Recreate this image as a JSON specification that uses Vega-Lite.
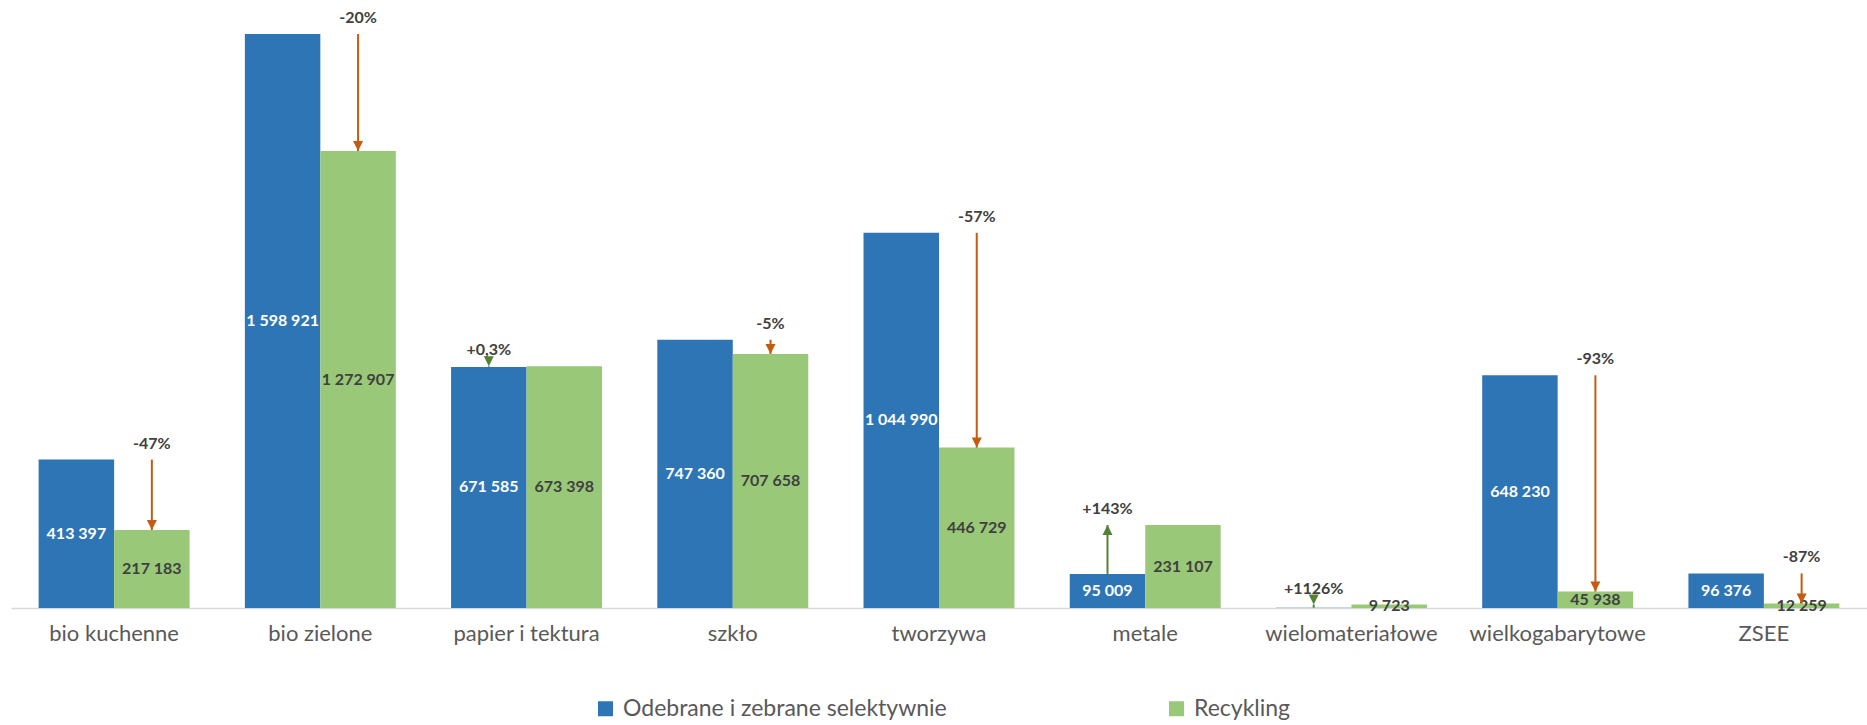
{
  "$schema": "https://vega.github.io/schema/vega-lite/v6.json",
  "width": 1856,
  "height": 608,
  "autosize": {"type": "none"},
  "padding": {"left": 11, "top": 0, "right": 0, "bottom": 117},
  "config": {
    "view": {"stroke": null},
    "font": "Lato",
    "locale": {"number": {"decimal": ",", "thousands": " ", "grouping": [3], "currency": ["", " zł"]}}
  },
  "data": {"values": [
    {"kategoria": "bio kuchenne", "odebrane": 413397, "recykling": 217183, "zmiana": "-47%"},
    {"kategoria": "bio zielone", "odebrane": 1598921, "recykling": 1272907, "zmiana": "-20%"},
    {"kategoria": "papier i tektura", "odebrane": 671585, "recykling": 673398, "zmiana": "+0,3%"},
    {"kategoria": "szkło", "odebrane": 747360, "recykling": 707658, "zmiana": "-5%"},
    {"kategoria": "tworzywa", "odebrane": 1044990, "recykling": 446729, "zmiana": "-57%"},
    {"kategoria": "metale", "odebrane": 95009, "recykling": 231107, "zmiana": "+143%"},
    {"kategoria": "wielomateriałowe", "odebrane": 793, "recykling": 9723, "zmiana": "+1126%"},
    {"kategoria": "wielkogabarytowe", "odebrane": 648230, "recykling": 45938, "zmiana": "-93%"},
    {"kategoria": "ZSEE", "odebrane": 96376, "recykling": 12259, "zmiana": "-87%"}
  ]},
  "encoding": {
    "x": {
      "field": "kategoria", "type": "nominal", "sort": null, "title": null,
      "scale": {"paddingInner": 0.268, "paddingOuter": 0.134},
      "axis": {"labelAngle": 0, "ticks": false, "domainColor": "#D9D9D9", "domainWidth": 1.5, "labelFontSize": 22, "labelColor": "#595959", "labelPadding": 15, "labelFont": "Lato"}
    }
  },
  "resolve": {"scale": {"y": "independent"}},
  "layer": [
    {
      "transform": [{"fold": ["odebrane", "recykling"], "as": ["seria", "wartosc"]}],
      "mark": {"type": "bar"},
      "encoding": {
        "xOffset": {"field": "seria", "type": "nominal", "scale": {"domain": ["odebrane", "recykling"], "paddingInner": 0, "paddingOuter": 0}},
        "y": {"field": "wartosc", "type": "quantitative", "scale": {"domain": [0, 1693600], "nice": false}, "axis": null},
        "color": {
          "field": "seria", "type": "nominal",
          "scale": {"domain": ["odebrane", "recykling"], "range": ["#2E75B6", "#99C878"]},
          "legend": {
            "title": null, "orient": "none", "direction": "horizontal", "legendX": 583, "legendY": 697,
            "symbolType": "square", "symbolSize": 225, "symbolStrokeWidth": 0,
            "labelFont": "Lato", "labelFontSize": 23, "labelColor": "#595959", "labelLimit": 500,
            "columnPadding": 218, "labelOffset": 6,
            "labelExpr": "datum.label == 'odebrane' ? 'Odebrane i zebrane selektywnie' : 'Recykling'"
          }
        }
      }
    },
    {
      "transform": [{"fold": ["odebrane", "recykling"], "as": ["seria", "wartosc"]}, {"filter": "datum.wartosc > 1000"}],
      "mark": {"type": "text", "font": "Lato", "fontSize": 16, "fontWeight": "bold", "baseline": "middle", "align": "center"},
      "encoding": {
        "xOffset": {"field": "seria", "type": "nominal"},
        "y": {"field": "wartosc", "type": "quantitative", "scale": {"domain": [0, 3387200], "nice": false}, "axis": null},
        "text": {"field": "wartosc", "type": "quantitative", "format": ",d"},
        "color": {"condition": {"test": "datum.seria == 'odebrane'", "value": "#FFFFFF"}, "value": "#404040"}
      }
    },
    {
      "transform": [{"filter": "datum.recykling < datum.odebrane"}],
      "mark": {"type": "rule", "color": "#C55A11", "strokeWidth": 2},
      "encoding": {
        "xOffset": {"datum": "recykling", "type": "nominal"},
        "y": {"field": "odebrane", "type": "quantitative", "scale": {"domain": [0, 1693600], "nice": false}, "axis": null},
        "y2": {"field": "recykling"}
      }
    },
    {
      "transform": [{"filter": "datum.recykling < datum.odebrane"}],
      "mark": {"type": "point", "filled": true, "opacity": 1, "color": "#C55A11", "size": 400, "shape": "M-0.5,-1L0.5,-1L0,0Z"},
      "encoding": {
        "xOffset": {"datum": "recykling", "type": "nominal"},
        "y": {"field": "recykling", "type": "quantitative", "scale": {"domain": [0, 1693600], "nice": false}, "axis": null}
      }
    },
    {
      "transform": [{"filter": "datum.recykling > datum.odebrane"}],
      "mark": {"type": "rule", "color": "#548235", "strokeWidth": 2},
      "encoding": {
        "xOffset": {"datum": "odebrane", "type": "nominal"},
        "y": {"field": "odebrane", "type": "quantitative", "scale": {"domain": [0, 1693600], "nice": false}, "axis": null},
        "y2": {"field": "recykling"}
      }
    },
    {
      "transform": [{"filter": "datum.recykling > datum.odebrane"}],
      "mark": {"type": "point", "filled": true, "opacity": 1, "color": "#548235", "size": 400},
      "encoding": {
        "xOffset": {"datum": "odebrane", "type": "nominal"},
        "y": {"field": "recykling", "type": "quantitative", "scale": {"domain": [0, 1693600], "nice": false}, "axis": null},
        "shape": {"condition": {"test": "datum.recykling - datum.odebrane > 20000", "value": "M-0.5,1L0.5,1L0,0Z"}, "value": "M-0.5,-1L0.5,-1L0,0Z"}
      }
    },
    {
      "transform": [{"filter": "datum.recykling < datum.odebrane"}],
      "mark": {"type": "text", "font": "Lato", "fontSize": 16, "fontWeight": "bold", "color": "#404040", "baseline": "middle", "align": "center", "dy": -16},
      "encoding": {
        "xOffset": {"datum": "recykling", "type": "nominal"},
        "y": {"field": "odebrane", "type": "quantitative", "scale": {"domain": [0, 1693600], "nice": false}, "axis": null},
        "text": {"field": "zmiana", "type": "nominal"}
      }
    },
    {
      "transform": [{"filter": "datum.recykling > datum.odebrane"}],
      "mark": {"type": "text", "font": "Lato", "fontSize": 16, "fontWeight": "bold", "color": "#404040", "baseline": "middle", "align": "center", "dy": -16},
      "encoding": {
        "xOffset": {"datum": "odebrane", "type": "nominal"},
        "y": {"field": "recykling", "type": "quantitative", "scale": {"domain": [0, 1693600], "nice": false}, "axis": null},
        "text": {"field": "zmiana", "type": "nominal"}
      }
    }
  ]
}
